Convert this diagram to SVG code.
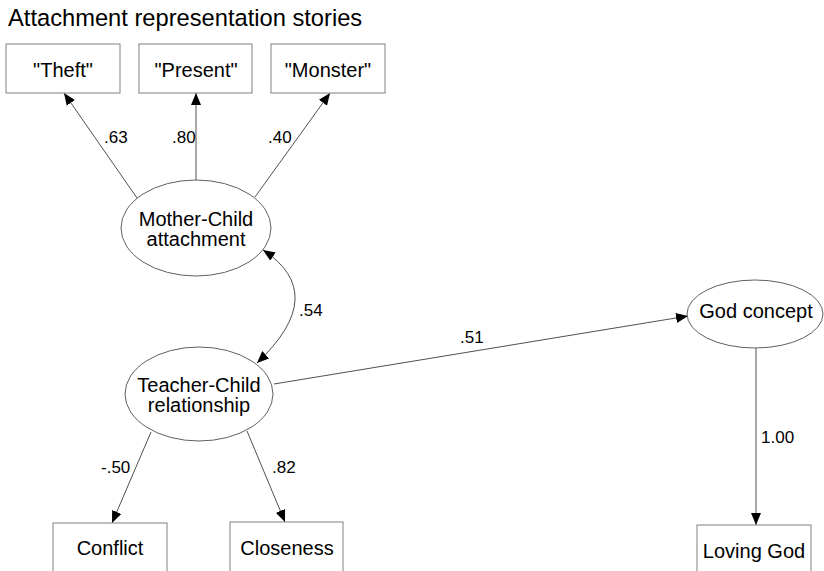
<svg xmlns="http://www.w3.org/2000/svg" width="824" height="571" viewBox="0 0 824 571">
<style>
text{font-family:"Liberation Sans",Arial,sans-serif;fill:#000}
.t{font-size:20px;text-anchor:middle}
.l{font-size:17px}
.box{fill:#fff;stroke:#808080;stroke-width:1}
.ell{fill:#fff;stroke:#606060;stroke-width:1}
.c{fill:none;stroke:#505050;stroke-width:1}
</style>
<defs>
<marker id="ah" viewBox="0 0 12 12" refX="12" refY="6" markerWidth="12" markerHeight="12" markerUnits="userSpaceOnUse" orient="auto-start-reverse">
<path d="M0,1 L12,6 L0,11 Z" fill="#000"/>
</marker>
</defs>
<rect width="824" height="571" fill="#fff"/>
<text x="8" y="26" style="font-size:23.7px">Attachment representation stories</text>
<g id="connectors">
<line class="c" x1="137" y1="198" x2="64" y2="93" marker-end="url(#ah)"/>
<line class="c" x1="196" y1="180" x2="196" y2="93" marker-end="url(#ah)"/>
<line class="c" x1="255" y1="197" x2="330" y2="93" marker-end="url(#ah)"/>
<path class="c" d="M263,250 Q330,294 257,363" marker-start="url(#ah)" marker-end="url(#ah)"/>
<line class="c" x1="274" y1="384" x2="688" y2="316" marker-end="url(#ah)"/>
<line class="c" x1="756" y1="348" x2="756" y2="525" marker-end="url(#ah)"/>
<line class="c" x1="151" y1="432" x2="112" y2="523" marker-end="url(#ah)"/>
<line class="c" x1="247" y1="431" x2="285" y2="522" marker-end="url(#ah)"/>
<text class="l" x="104" y="143">.63</text>
<text class="l" x="172" y="143">.80</text>
<text class="l" x="268" y="143">.40</text>
<text class="l" x="299" y="316">.54</text>
<text class="l" x="460" y="343">.51</text>
<text class="l" x="761" y="443">1.00</text>
<text class="l" x="101" y="473">-.50</text>
<text class="l" x="272" y="473">.82</text>
</g>
<g id="theft"><rect class="box" x="6" y="44" width="114" height="49"/><text class="t" x="63" y="77">"Theft"</text></g>
<g id="present"><rect class="box" x="139" y="44" width="113" height="49"/><text class="t" x="196" y="77">"Present"</text></g>
<g id="monster"><rect class="box" x="271" y="44" width="114" height="49"/><text class="t" x="328" y="77">"Monster"</text></g>
<g id="mother"><ellipse class="ell" cx="196" cy="228" rx="75" ry="48"/><text class="t" x="196" y="226">Mother-Child</text><text class="t" x="196" y="246">attachment</text></g>
<g id="teacher"><ellipse class="ell" cx="199" cy="394" rx="74" ry="47"/><text class="t" x="199" y="392">Teacher-Child</text><text class="t" x="199" y="412">relationship</text></g>
<g id="god"><ellipse class="ell" cx="755" cy="314" rx="68" ry="34"/><text class="t" x="756" y="318">God concept</text></g>
<g id="conflict"><rect class="box" x="53" y="523" width="114" height="60"/><text class="t" x="110" y="555">Conflict</text></g>
<g id="closeness"><rect class="box" x="230" y="522" width="113" height="60"/><text class="t" x="287" y="555">Closeness</text></g>
<g id="loving"><rect class="box" x="697" y="525" width="114" height="60"/><text class="t" x="754" y="558">Loving God</text></g>
</svg>
